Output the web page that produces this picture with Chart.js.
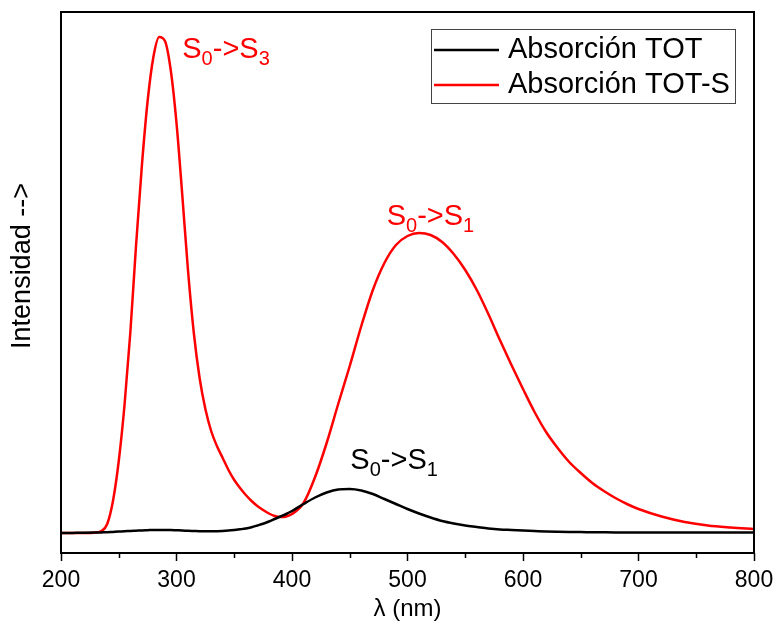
<!DOCTYPE html>
<html>
<head>
<meta charset="utf-8">
<script src="https://cdn.jsdelivr.net/npm/chart.js@4/dist/chart.umd.min.js"></script>
<style>
html,body{margin:0;padding:0;background:#fff;}
#wrap{width:777px;height:625px;}
</style>
</head>
<body>
<div id="wrap"><canvas id="c" width="777" height="625"></canvas></div>
<script>
// ---- Data ----
const wavelengths = [200,210,220,230,235,240,245,250,255,260,265,270,275,280,285,290,295,300,305,310,315,320,325,330,335,340,345,350,355,360,365,370,375,380,385,390,395,400,410,420,430,440,450,460,470,480,490,500,510,520,530,540,550,560,570,580,590,600,610,620,630,640,650,660,670,680,690,700,720,740,760,780,800];
const absTOT = [0,0.1,0.2,0.4,0.6,0.8,1.1,1.4,1.8,2,2.3,2.6,2.8,3,3,3,2.9,2.7,2.5,2.2,2,1.8,1.7,1.7,1.8,2,2.4,3,3.7,4.5,5.8,7.5,9.3,11.5,14,16.5,19,22,29,35.5,40.5,43.5,44,42.5,39,34,29,24,19.5,15.5,12,9.5,7.5,6,4.5,3.5,3,2.5,2,1.5,1.2,1,0.9,0.8,0.7,0.6,0.55,0.5,0.5,0.5,0.5,0.5,0.5];
const absTOTS = [0,0,0,0.5,2,9,32,72,128,200,288,367,432,476,496,492,463,410,338,262,200,155,124,102,87,75,63,53,45,38,32,27,23,19.5,17,16,16.5,19,30,56,90,129,167,207,243,270,288,297,300,298,291,279,263,243,219,193,168,144,121,101,85,71,60,50,42,35,29,24,16.5,11,7.5,5.5,4];
const xTickValues = [200,300,400,500,600,700,800];
const xMinorTicks = [250,350,450,550,650,750];
const seriesNames = ['Absorción TOT','Absorción TOT-S'];
const seriesColors = ['#000000','#ff0000'];
const yTitle = 'Intensidad -->';
const xTitle = 'λ (nm)';
// transition labels: text parts and anchor in data units
const transitionLabels = [
  {main1:'S', sub1:'0', main2:'->S', sub2:'3', wl:305, val:475, color:'#ff0000'},
  {main1:'S', sub1:'0', main2:'->S', sub2:'1', wl:482, val:308, color:'#ff0000'},
  {main1:'S', sub1:'0', main2:'->S', sub2:'1', wl:450.5, val:64, color:'#000000'}
];

const FONT = "'Liberation Sans', Arial, sans-serif";

const framePlugin = {
  id: 'frame',
  afterDraw(chart) {
    const {ctx, chartArea: a, scales} = chart;
    const xs = scales.x, ys = scales.y;
    ctx.save();
    // frame
    ctx.strokeStyle = '#000';
    ctx.lineWidth = 2;
    ctx.strokeRect(a.left, a.top, a.right - a.left, a.bottom - a.top);
    // minor ticks
    ctx.lineWidth = 1.5;
    ctx.beginPath();
    xMinorTicks.forEach(v => {
      const px = Math.round(xs.getPixelForValue(v)) + 0.5;
      ctx.moveTo(px, a.bottom);
      ctx.lineTo(px, a.bottom + 5);
    });
    ctx.stroke();
    // y title
    ctx.fillStyle = '#000';
    ctx.font = '27px ' + FONT;
    ctx.textAlign = 'center';
    ctx.textBaseline = 'middle';
    ctx.translate(22.5, 266);
    ctx.rotate(-Math.PI / 2);
    ctx.fillText(yTitle, 0, 0);
    ctx.restore();

    // legend
    ctx.save();
    const bx = a.right - 323, by = a.top + 17, bw = 304, bh = 74;
    ctx.strokeStyle = '#444';
    ctx.lineWidth = 1;
    ctx.strokeRect(bx + 0.5, by + 0.5, bw, bh);
    ctx.font = '29px ' + FONT;
    ctx.textAlign = 'left';
    ctx.textBaseline = 'middle';
    seriesNames.forEach((name, i) => {
      const ly = by + 21 + i * 35;
      ctx.strokeStyle = seriesColors[i];
      ctx.lineWidth = 2.5;
      ctx.beginPath();
      ctx.moveTo(bx + 3, ly);
      ctx.lineTo(bx + 68, ly);
      ctx.stroke();
      ctx.fillStyle = '#000';
      ctx.fillText(name, bx + 77, ly);
    });
    ctx.restore();

    // transition labels
    ctx.save();
    ctx.textAlign = 'left';
    ctx.textBaseline = 'alphabetic';
    transitionLabels.forEach(l => {
      let x = xs.getPixelForValue(l.wl);
      const y = ys.getPixelForValue(l.val);
      ctx.fillStyle = l.color;
      ctx.font = '29px ' + FONT;
      ctx.fillText(l.main1, x, y); x += ctx.measureText(l.main1).width;
      ctx.font = '20px ' + FONT;
      ctx.fillText(l.sub1, x, y + 7); x += ctx.measureText(l.sub1).width;
      ctx.font = '29px ' + FONT;
      ctx.fillText(l.main2, x, y); x += ctx.measureText(l.main2).width;
      ctx.font = '20px ' + FONT;
      ctx.fillText(l.sub2, x, y + 7);
    });
    ctx.restore();
  }
};

const toPoints = arr => wavelengths.map((w, i) => ({x: w, y: arr[i]}));

new Chart(document.getElementById('c'), {
  type: 'line',
  data: {
    datasets: [
      {label: seriesNames[0], data: toPoints(absTOT), borderColor: seriesColors[0], borderWidth: 2.5, pointRadius: 0, cubicInterpolationMode: 'monotone', fill: false},
      {label: seriesNames[1], data: toPoints(absTOTS), borderColor: seriesColors[1], borderWidth: 2.5, pointRadius: 0, cubicInterpolationMode: 'monotone', fill: false}
    ]
  },
  options: {
    responsive: false,
    devicePixelRatio: 1,
    animation: false,
    layout: {padding: {left: 61, right: 23, top: 12, bottom: 1.6}},
    plugins: {legend: {display: false}, tooltip: {enabled: false}},
    scales: {
      x: {
        type: 'linear', min: 200, max: 800,
        afterBuildTicks: s => { s.ticks = xTickValues.map(v => ({value: v})); },
        afterFit: s => { s.paddingLeft = 0; s.paddingRight = 0; },
        grid: {display: true, drawOnChartArea: false, drawTicks: true, tickLength: 8, tickWidth: 1.5, tickColor: '#000', color: '#000'},
        border: {display: false},
        ticks: {color: '#000', font: {family: FONT, size: 23}, padding: 6, maxRotation: 0},
        title: {display: true, text: xTitle, color: '#000', font: {family: FONT, size: 24}, padding: {top: -6, bottom: 0}}
      },
      y: {
        type: 'linear', min: -20, max: 521, display: false
      }
    }
  },
  plugins: [framePlugin]
});
</script>
</body>
</html>
